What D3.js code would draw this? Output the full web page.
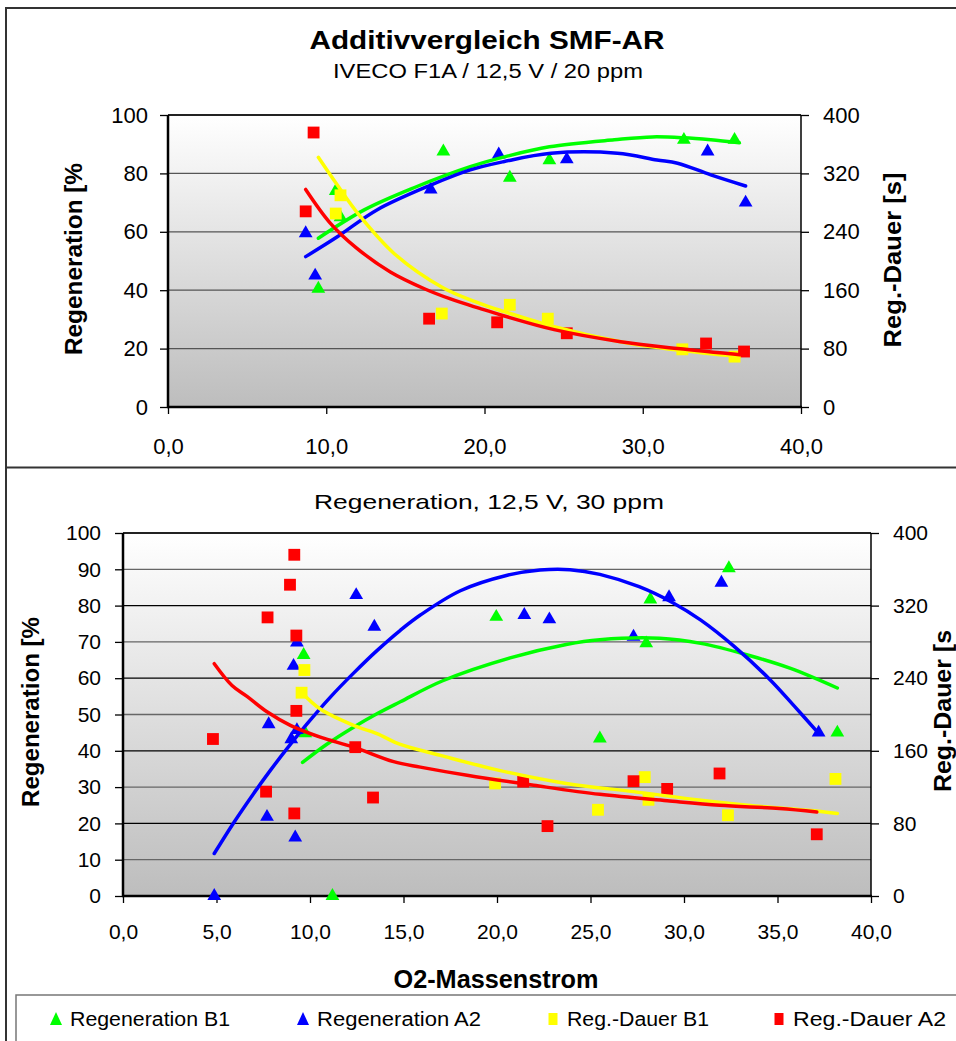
<!DOCTYPE html>
<html>
<head>
<meta charset="utf-8">
<script src="https://cdn.jsdelivr.net/npm/d3@7"></script>
<style>
  body { margin: 0; background: #fff; }
  svg { display: block; }
  text { font-family: "Liberation Sans", Arial, sans-serif; fill: #000; }
</style>
</head>
<body>
<svg id="chart" width="956" height="1041"></svg>
<script>
// ---------- Panel 1: IVECO F1A / 12,5 V / 20 ppm ----------
// measured points [O2-Massenstrom, value]
const topRegB1   = [[9.5,40.5],[10.6,74],[10.9,65],[17.4,87.5],[21.6,78.5],[24.1,84.5],[32.6,91.5],[35.8,91.5]];
const topRegA2   = [[8.7,59.5],[9.3,45],[16.6,74.5],[20.9,86.5],[25.2,84.8],[34.1,87.5],[36.5,70]];
const topDauerB1 = [[10.6,265],[10.9,290],[17.3,128],[21.6,140],[24.0,121],[32.5,79],[35.8,69]];
const topDauerA2 = [[9.2,376],[8.7,268],[16.5,121],[20.8,116],[25.2,101],[34.0,87],[36.4,76]];
// trend curves
const topTrendRegB1   = [[9.5,57.8],[12.4,67.5],[15.5,75],[19.1,82.3],[21.5,86],[24.1,89.1],[28.2,91.5],[30.6,92.5],[32.6,92.2],[34.3,91.5],[36.1,90.5]];
const topTrendRegA2   = [[8.7,51.5],[10.7,58.3],[13.2,67.5],[16.6,76],[19.1,81.2],[21.2,84],[24.2,86.9],[28.4,86.9],[30.9,84.6],[32.2,83.5],[34.3,79.5],[36.5,75.7]];
const topTrendDauerB1 = [[9.5,342],[10.7,304],[12.15,261],[14.3,210],[17.4,163],[19.7,142],[21.2,131],[24.4,110],[28.6,89.5],[32.2,78],[36.1,69]];
const topTrendDauerA2 = [[8.7,298],[10.25,252],[11.9,218],[14.05,185],[16.2,162],[17.85,148],[19.7,135],[21.2,125],[24.4,106],[28.6,89.5],[32.2,80],[36.4,71]];

// ---------- Panel 2: Regeneration, 12,5 V, 30 ppm ----------
const botRegB1   = [[9.66,66.4],[9.75,44.8],[11.2,0],[19.96,76.9],[25.5,43.4],[28.2,81.7],[27.98,69.6],[32.4,90.3],[38.2,45]];
const botRegA2   = [[4.88,0],[7.79,47.3],[7.7,21.8],[9.21,16.1],[9.12,63.4],[9.3,69.8],[9.0,43.2],[9.3,45.7],[12.47,82.9],[13.44,74.2],[21.46,77.4],[22.8,76.2],[27.3,71.4],[29.2,82.3],[32.0,86.3],[37.2,45]];
const botDauerB1 = [[9.7,249],[9.55,224],[19.9,124],[25.4,95],[27.9,131],[28.1,106],[32.35,89],[38.1,129]];
const botDauerA2 = [[4.81,173],[9.16,376],[8.93,343],[7.73,307],[9.27,287],[9.27,204],[7.65,115],[9.16,91],[12.42,164],[13.37,108.5],[21.4,126],[22.7,77],[27.3,126.5],[29.1,118],[31.9,135],[37.1,68]];
const botTrendRegB1   = [[9.6,36.8],[10.9,41.8],[12.33,46.5],[13.58,50.2],[14.83,53.5],[17.1,59.3],[20.7,65.6],[23.7,69.3],[25.5,70.6],[28.7,71],[30.9,69.6],[33.4,66.4],[35.7,62.7],[38.2,57.3]];
const botTrendRegA2   = [[4.88,11.7],[5.92,20.2],[6.98,28.2],[7.88,34.6],[8.77,40.6],[9.84,47.4],[11.09,54.8],[12.33,61.4],[13.58,67.6],[14.83,73.2],[15.9,77.4],[18.04,84.1],[20.5,88.3],[22.3,89.8],[23.9,89.9],[25.5,88.6],[27.6,85.2],[29.4,80.8],[30.9,76],[32.65,68.9],[34.6,59.6],[35.9,52.3],[37.2,44.8]];
const botTrendDauerB1 = [[9.57,224],[10.55,206],[12.33,188],[13.58,179],[14.83,167],[16.97,155],[20.0,139],[23.7,124],[27.3,115],[30.9,105.5],[33.4,100],[36.6,94.5],[38.2,91]];
const botTrendDauerA2 = [[4.88,256],[5.83,232],[6.63,220],[7.7,203],[8.95,188],[10.55,175],[12.33,164],[14.47,148],[15.9,142],[18.4,133],[21.96,122],[25.5,112],[29.1,105],[31.9,100],[35.1,96.4],[37.1,92.6]];

// ---------- axis ticks and legend ----------
const topXTicks = [0, 10, 20, 30, 40];
const botXTicks = [0, 5, 10, 15, 20, 25, 30, 35, 40];
const topLeftTicks = [0, 20, 40, 60, 80, 100];
const botLeftTicks = [0, 10, 20, 30, 40, 50, 60, 70, 80, 90, 100];
const rightTicks = [0, 80, 160, 240, 320, 400];
const seriesNames = ["Regeneration B1", "Regeneration A2", "Reg.-Dauer B1", "Reg.-Dauer A2"];
const seriesColors = ["#00ff00", "#0000ff", "#ffff00", "#ff0000"];

const svg = d3.select("#chart");
const defs = svg.append("defs");
const grad = defs.append("linearGradient").attr("id", "plotBg")
  .attr("x1", 0).attr("y1", 0).attr("x2", 0).attr("y2", 1);
grad.append("stop").attr("offset", "0%").attr("stop-color", "#ffffff");
grad.append("stop").attr("offset", "100%").attr("stop-color", "#bdbdbd");

const fmtX = d => d.toFixed(1).replace(".", ",");

// text helper: fixed width so the label spans its measured extent
function label(parent, txt, opts) {
  const t = parent.append("text").text(txt)
    .attr("text-anchor", "middle")
    .attr("font-size", opts.size)
    .attr("font-weight", opts.bold ? "bold" : "normal");
  if (opts.transform) t.attr("transform", opts.transform);
  if (opts.x !== undefined) t.attr("x", opts.x).attr("y", opts.y);
  if (opts.len) t.attr("textLength", opts.len).attr("lengthAdjust", "spacingAndGlyphs");
  return t;
}

function drawPanel(p) {
  const g = svg.append("g");
  const x = d3.scaleLinear().domain([0, 40]).range([p.left, p.right]);
  const yL = d3.scaleLinear().domain([0, 100]).range([p.bottom, p.top]);
  const yR = d3.scaleLinear().domain([0, 400]).range([p.bottom, p.top]);

  g.append("rect").attr("x", p.left).attr("y", p.top)
    .attr("width", p.right - p.left).attr("height", p.bottom - p.top)
    .attr("fill", "url(#plotBg)");

  // horizontal gridlines
  g.append("g").selectAll("line").data(p.leftTicks.filter(t => t > 0 && t < 100)).join("line")
    .attr("x1", p.left).attr("x2", p.right)
    .attr("y1", d => yL(d)).attr("y2", d => yL(d))
    .attr("stroke", d => p.gridColor(d)).attr("stroke-width", 1.3);
  // top border of plot
  g.append("line").attr("x1", p.left).attr("x2", p.right).attr("y1", p.top).attr("y2", p.top)
    .attr("stroke", "#222").attr("stroke-width", 2);

  // axes
  const styleAxis = (sel, size) => {
    sel.select(".domain").remove();
    sel.selectAll(".tick line").attr("stroke", "#000").attr("stroke-width", 1.3);
    sel.selectAll(".tick text").attr("font-size", size).attr("font-family", '"Liberation Sans", Arial, sans-serif').attr("fill", "#000");
  };
  g.append("g").attr("transform", `translate(${p.left},0)`)
    .call(d3.axisLeft(yL).tickValues(p.leftTicks).tickSize(8).tickPadding(p.leftPad).tickFormat(d3.format("d")))
    .call(s => styleAxis(s, p.tickFont));
  g.append("g").attr("transform", `translate(${p.right},0)`)
    .call(d3.axisRight(yR).tickValues(rightTicks).tickSize(8).tickPadding(p.rightPad).tickFormat(d3.format("d")))
    .call(s => styleAxis(s, p.tickFont));
  g.append("g").attr("transform", `translate(0,${p.bottom})`)
    .call(d3.axisBottom(x).tickValues(p.xTicks).tickSize(7).tickPadding(p.xPad).tickFormat(fmtX))
    .call(s => styleAxis(s, p.tickFont));

  // axis lines
  g.append("line").attr("x1", p.left).attr("x2", p.left).attr("y1", p.top).attr("y2", p.bottom + 1)
    .attr("stroke", "#000").attr("stroke-width", 2.5);
  g.append("line").attr("x1", p.right).attr("x2", p.right).attr("y1", p.top).attr("y2", p.bottom + 1)
    .attr("stroke", "#000").attr("stroke-width", 1.5);
  g.append("line").attr("x1", p.left - 1).attr("x2", p.right + 1).attr("y1", p.bottom).attr("y2", p.bottom)
    .attr("stroke", "#000").attr("stroke-width", 2.5);

  // markers
  const tri = d3.symbol(d3.symbolTriangle, 82)();
  const sq = d3.symbol(d3.symbolSquare, 140)();
  const markerSets = [
    [p.regB1, yL, tri, seriesColors[0]],
    [p.regA2, yL, tri, seriesColors[1]],
    [p.dauerB1, yR, sq, seriesColors[2]],
    [p.dauerA2, yR, sq, seriesColors[3]]
  ];
  markerSets.forEach(([data, ys, shape, color]) => {
    g.append("g").selectAll("path").data(data).join("path")
      .attr("d", shape)
      .attr("transform", d => `translate(${x(d[0])},${ys(d[1])})`)
      .attr("fill", color);
  });

  // trend curves
  const trendSets = [
    [p.trRegB1, yL, seriesColors[0]],
    [p.trRegA2, yL, seriesColors[1]],
    [p.trDauerB1, yR, seriesColors[2]],
    [p.trDauerA2, yR, seriesColors[3]]
  ];
  trendSets.forEach(([data, ys, color]) => {
    g.append("path").datum(data)
      .attr("d", d3.line().x(d => x(d[0])).y(d => ys(d[1])).curve(d3.curveCatmullRom))
      .attr("fill", "none").attr("stroke", color).attr("stroke-width", 3.5)
      .attr("stroke-linecap", "round").attr("stroke-linejoin", "round");
  });

  // axis titles
  label(g, "Regeneration [%", { size: 23, bold: true, len: p.leftTitleLen,
    transform: `translate(${p.leftTitleX},${p.leftTitleY}) rotate(-90)` });
  label(g, p.rightTitle, { size: 23, bold: true, len: p.rightTitleLen,
    transform: `translate(${p.rightTitleX},${p.rightTitleY}) rotate(-90)` });
}

// panel frames
svg.append("path").attr("d", "M6,1041 L6,8 L956,8").attr("fill", "none")
  .attr("stroke", "#333").attr("stroke-width", 2);
svg.append("line").attr("x1", 6).attr("x2", 956).attr("y1", 467.5).attr("y2", 467.5)
  .attr("stroke", "#333").attr("stroke-width", 2);

// headings
label(svg, "Additivvergleich SMF-AR", { x: 487, y: 49, size: 26, bold: true, len: 355 });
label(svg, "IVECO F1A / 12,5 V / 20 ppm", { x: 488, y: 78, size: 20, len: 310 });
label(svg, "Regeneration, 12,5 V, 30 ppm", { x: 489, y: 509, size: 21, len: 350 });

drawPanel({
  left: 168, right: 801, top: 115, bottom: 407,
  xTicks: topXTicks, leftTicks: topLeftTicks, tickFont: 22,
  leftPad: 12, rightPad: 14, xPad: 24,
  gridColor: () => "#555",
  regB1: topRegB1, regA2: topRegA2, dauerB1: topDauerB1, dauerA2: topDauerA2,
  trRegB1: topTrendRegB1, trRegA2: topTrendRegA2, trDauerB1: topTrendDauerB1, trDauerA2: topTrendDauerA2,
  leftTitleX: 82, leftTitleY: 259, leftTitleLen: 192,
  rightTitleX: 901, rightTitleY: 260, rightTitleLen: 175,
  rightTitle: "Reg.-Dauer [s]"
});

drawPanel({
  left: 123, right: 871, top: 533, bottom: 896,
  xTicks: botXTicks, leftTicks: botLeftTicks, tickFont: 21,
  leftPad: 14, rightPad: 14, xPad: 21,
  gridColor: d => (d % 20 === 0 ? "#000" : "#666"),
  regB1: botRegB1, regA2: botRegA2, dauerB1: botDauerB1, dauerA2: botDauerA2,
  trRegB1: botTrendRegB1, trRegA2: botTrendRegA2, trDauerB1: botTrendDauerB1, trDauerA2: botTrendDauerA2,
  leftTitleX: 39, leftTitleY: 712, leftTitleLen: 190,
  rightTitleX: 951, rightTitleY: 711, rightTitleLen: 162,
  rightTitle: "Reg.-Dauer [s"
});

label(svg, "O2-Massenstrom", { x: 496, y: 988, size: 25, bold: true, len: 205 });

// legend
svg.append("rect").attr("x", 16).attr("y", 995).attr("width", 960).attr("height", 60)
  .attr("fill", "#fff").attr("stroke", "#777").attr("stroke-width", 1.5);
const legendX = [56, 303, 553, 779];
const legendLen = [160, 164, 142, 153];
const lg = svg.append("g").selectAll("g").data(seriesNames).join("g")
  .attr("transform", (d, i) => `translate(${legendX[i]},1019)`);
lg.append("path")
  .attr("d", (d, i) => i < 2 ? "M0,-7 L6,6 L-6,6 Z" : "M-4.5,-6 L4.5,-6 L4.5,6 L-4.5,6 Z")
  .attr("fill", (d, i) => seriesColors[i]);
lg.append("text").attr("x", 14).attr("y", 7).attr("font-size", 20)
  .attr("textLength", (d, i) => legendLen[i]).attr("lengthAdjust", "spacingAndGlyphs")
  .text(d => d);
</script>
</body>
</html>
